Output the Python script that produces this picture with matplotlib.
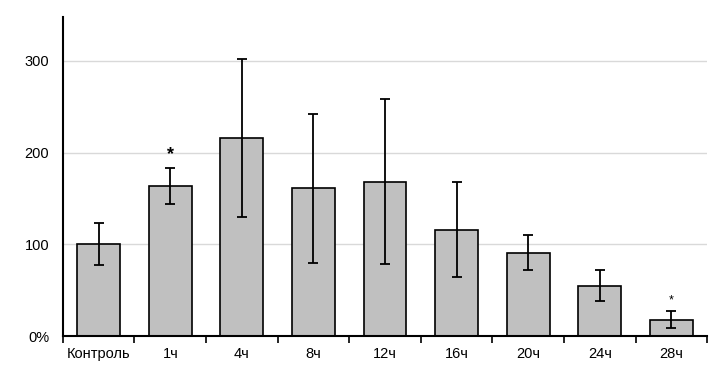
import matplotlib
matplotlib.use("Agg")
import matplotlib.pyplot as plt
import numpy as np

categories = ["Контроль", "1ч", "4ч", "8ч", "12ч", "16ч", "20ч", "24ч", "28ч"]
values = [100, 164, 216, 161, 168, 116, 91, 55, 18]
errors = [23, 19.5, 86, 81, 90, 52, 19, 17, 9.5]
stars = ["", "*", "", "", "", "", "", "", "*"]
ytick_vals = [0, 100, 200, 300]
ytick_labels = ["0%", "100", "200", "300"]

plt.rcParams['font.family'] = ['Liberation Sans', 'DejaVu Sans']

fig = plt.figure(figsize=(7.23, 3.74), dpi=100)
ax = fig.add_axes([0.087, 0.1016, 0.891, 0.853])

x = np.arange(len(categories))
ax.bar(x, values, width=0.6, color="#c0c0c0", edgecolor="black", linewidth=1.2, zorder=2)
ax.errorbar(x, values, yerr=errors, fmt="none", ecolor="black", elinewidth=1.3,
            capsize=3.5, capthick=1.3, zorder=3)

for i, s in enumerate(stars):
    if s:
        top = values[i] + errors[i]
        ax.text(x[i], top + 14 if i == 1 else top + 11, s, ha="center", va="center",
                fontsize=13 if i == 1 else 9, fontweight="bold" if i == 1 else "normal",
                color="black")

ax.set_xlim(-0.5, len(categories) - 0.5)
ax.set_ylim(0, 348)
ax.set_yticks(ytick_vals)
ax.set_yticklabels(ytick_labels, fontsize=10.5)
ax.tick_params(axis="y", length=0, pad=10)
ax.yaxis.grid(True, color="#d9d9d9", linewidth=1, zorder=0)
ax.set_axisbelow(True)

ax.set_xticks(x)
ax.set_xticklabels(categories, fontsize=10.5)
ax.set_xticks(np.arange(-0.5, len(categories)), minor=True)
ax.tick_params(axis="x", which="major", length=0, pad=8)
ax.tick_params(axis="x", which="minor", length=5, width=1.2, direction="out")

for sp in ["top", "right"]:
    ax.spines[sp].set_visible(False)
ax.spines["left"].set_linewidth(1.5)
ax.spines["bottom"].set_linewidth(1.5)

fig.savefig("out.png", dpi=100)
